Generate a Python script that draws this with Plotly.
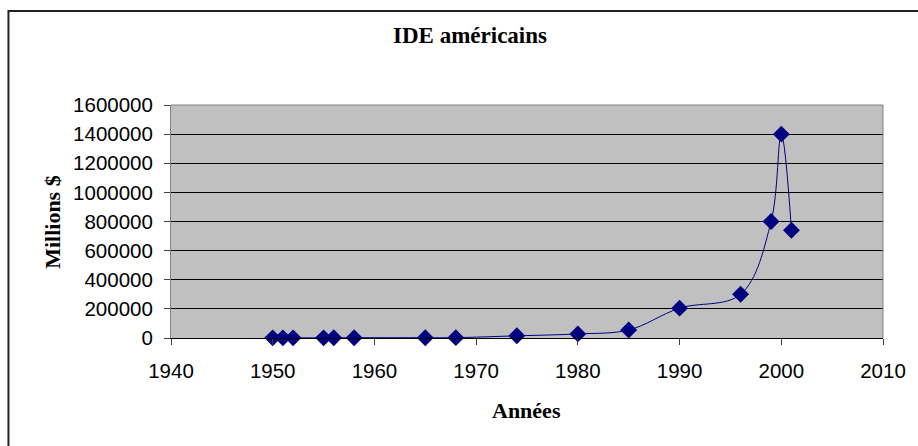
import plotly.graph_objects as go

years = [1950, 1951, 1952, 1955, 1956, 1958, 1965, 1968, 1974, 1980, 1985, 1990, 1996, 1999, 2000, 2001]
ide_millions = [1000, 1000, 1000, 1000, 1500, 2000, 2000, 2500, 15000, 28000, 55000, 205000, 300000, 800000, 1400000, 740000]

chart_title = "IDE américains"
x_title = "Années"
y_title = "Millions $"
y_ticks = [0, 200000, 400000, 600000, 800000, 1000000, 1200000, 1400000, 1600000]
x_ticks = [1940, 1950, 1960, 1970, 1980, 1990, 2000, 2010]

W, H = 918, 446
L, R, T, B = 171, 885, 105, 338
pw, ph = R - L, B - T

def px(x):
    return (x - L) / pw

def py(y):
    return (B - y) / ph

fig = go.Figure()
fig.add_trace(go.Scatter(
    x=years, y=ide_millions, mode="lines+markers",
    line=dict(color="#000080", width=1, shape="spline", smoothing=1),
    marker=dict(symbol="diamond", size=13, color="#000080"),
    showlegend=False, cliponaxis=False,
))

serif = "Liberation Serif, Times New Roman, serif"
sans = "Liberation Sans, Arial, sans-serif"

fig.update_layout(
    width=W, height=H,
    margin=dict(l=L, r=W - R, t=T, b=H - B),
    paper_bgcolor="white", plot_bgcolor="#C0C0C0",
    title=dict(text="<b>" + chart_title + "</b>", x=470 / W, xref="container", xanchor="center",
               y=1 - 35 / H, yref="container", yanchor="middle",
               font=dict(family=serif, size=23, color="black")),
    xaxis=dict(range=[1940, 2010], tickvals=x_ticks, ticks="outside", ticklen=6,
               tickcolor="#404040", showgrid=False, zeroline=False,
               showline=True, linecolor="black", linewidth=1, ticklabelstandoff=8,
               tickfont=dict(family=sans, size=20.5, color="black")),
    yaxis=dict(range=[0, 1600000], tickvals=y_ticks, tickformat="d", ticks="outside", ticklen=6,
               tickcolor="#404040", showgrid=True, gridcolor="black", gridwidth=1,
               zeroline=False, showline=True, linecolor="#808080", linewidth=1, ticklabelstandoff=7,
               tickfont=dict(family=sans, size=20.5, color="black")),
    annotations=[
        dict(text="<b>" + x_title + "</b>", xref="paper", yref="paper", x=px(527), y=py(410),
             showarrow=False, xanchor="center", yanchor="middle",
             font=dict(family=serif, size=22, color="black")),
        dict(text="<b>" + y_title + "</b>", xref="paper", yref="paper", x=px(52), y=0.5,
             showarrow=False, textangle=-90, xanchor="center", yanchor="middle",
             font=dict(family=serif, size=22, color="black")),
    ],
    shapes=[
        dict(type="line", xref="paper", yref="paper", x0=0, x1=1, y0=1, y1=1,
             line=dict(color="#808080", width=1)),
        dict(type="line", xref="paper", yref="paper", x0=1, x1=1, y0=0, y1=1,
             line=dict(color="#808080", width=1)),
        dict(type="rect", xref="paper", yref="paper", x0=px(8), x1=px(930), y0=py(11), y1=py(460),
             line=dict(color="#222222", width=2), layer="above"),
    ],
)

fig.write_html("out.html", config={"displayModeBar": False},
               post_script="document.body.style.margin='0';document.body.style.padding='0';")
